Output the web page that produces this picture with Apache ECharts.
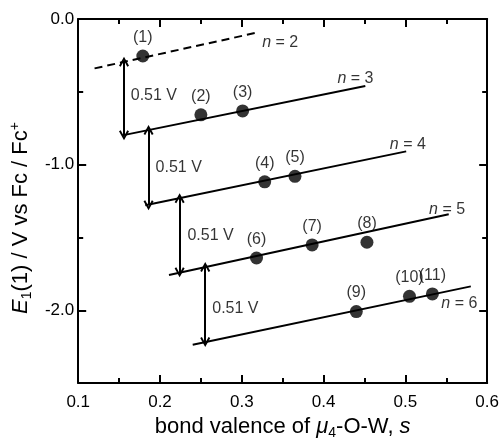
<!DOCTYPE html>
<html>
<head>
<meta charset="utf-8">
<script src="https://cdn.jsdelivr.net/npm/echarts@6/dist/echarts.min.js"></script>
<style>
  html, body { margin: 0; padding: 0; background: #fff; }
  #chart { width: 502px; height: 445px; }
</style>
</head>
<body>
<div id="chart"></div>
<script>
// measured points: bond valence s, E1(1)
const pointNames = ['(1)', '(2)', '(3)', '(4)', '(5)', '(6)', '(7)', '(8)', '(9)', '(10)', '(11)'];
const pointS = [0.179, 0.250, 0.301, 0.328, 0.365, 0.318, 0.386, 0.453, 0.440, 0.505, 0.533];
const pointE = [-0.254, -0.658, -0.631, -1.118, -1.080, -1.641, -1.551, -1.533, -2.009, -1.904, -1.888];

// fit lines per n: [sStart, eStart, sEnd, eEnd]
const fitN = [2, 3, 4, 5, 6];
const fitLines = [
  [0.120, -0.339, 0.318, -0.094],
  [0.154, -0.799, 0.451, -0.460],
  [0.182, -1.279, 0.501, -0.909],
  [0.211, -1.758, 0.553, -1.340],
  [0.240, -2.236, 0.580, -1.836]
];
// where the "n = .." text sits
const nLabelPos = [
  [0.347, -0.162],
  [0.439, -0.411],
  [0.503, -0.863],
  [0.551, -1.307],
  [0.566, -1.954]
];

// double arrows: [s, eTop, eBottom]
const gapArrows = [
  [0.156, -0.294, -0.799],
  [0.186, -0.763, -1.279],
  [0.224, -1.231, -1.739],
  [0.2553, -1.703, -2.218]
];
const gapText = '0.51 V';
const gapLabelPos = [
  [0.1925, -0.526],
  [0.2229, -1.018],
  [0.2618, -1.489],
  [0.2922, -1.988]
];

const xTicks = { min: 0.1, max: 0.6, step: 0.1 };
const yTicks = { min: -2.5, max: 0, step: 0.5, major: [0, -1, -2] };

const FONT = 'Liberation Sans, Arial, sans-serif';
const INK = '#000';
const CLEAR = 'rgba(0,0,0,0)';

const chart = echarts.init(document.getElementById('chart'));

// open chevron head, tip at top
const head = 'path://M0,9 L5,0 L10,9 L8.3,10 L5,3.8 L1.7,10 Z';

function xAxisDef(pos, showLabels) {
  return {
    type: 'value',
    position: pos,
    min: xTicks.min,
    max: xTicks.max,
    interval: xTicks.step,
    splitLine: { show: false },
    axisLine: { show: true, onZero: false, lineStyle: { color: INK, width: 2 } },
    axisTick: { show: true, inside: true, length: 8, lineStyle: { color: INK, width: 2 } },
    minorTick: { show: true, splitNumber: 2, length: 5, lineStyle: { color: INK, width: 2 } },
    axisLabel: {
      show: showLabels,
      margin: 11,
      color: INK,
      fontFamily: FONT,
      fontSize: 17,
      formatter: v => v.toFixed(1)
    }
  };
}

function yAxisDef(pos, showLabels, majorOnly) {
  const ax = {
    type: 'value',
    position: pos,
    min: yTicks.min,
    max: yTicks.max,
    interval: yTicks.step,
    splitLine: { show: false },
    axisLine: { show: !majorOnly, onZero: false, lineStyle: { color: INK, width: 2 } },
    axisTick: { show: true, inside: true, length: majorOnly ? 8 : 5, lineStyle: { color: INK, width: 2 } },
    axisLabel: {
      show: showLabels,
      margin: 4,
      color: INK,
      fontFamily: FONT,
      fontSize: 17,
      formatter: v => (Math.abs(v - Math.round(v)) < 1e-6 ? v.toFixed(1) : '')
    }
  };
  if (majorOnly) ax.axisTick.customValues = yTicks.major;
  return ax;
}

const titleRich = {
  n: { fontFamily: FONT, fontSize: 22, color: INK, lineHeight: 26 },
  i: { fontFamily: FONT, fontSize: 22, color: INK, fontStyle: 'italic', lineHeight: 26 },
  sub: { fontFamily: FONT, fontSize: 14, color: INK, verticalAlign: 'bottom', lineHeight: 16 },
  sup: { fontFamily: FONT, fontSize: 14, color: INK, verticalAlign: 'top', lineHeight: 16 }
};

const xAxes = [xAxisDef('bottom', true), xAxisDef('top', false)];
xAxes[0].name = '{n|bond valence of }{i|μ}{sub|4}{n|-O-W, }{i|s}';
xAxes[0].nameLocation = 'middle';
xAxes[0].nameGap = 30;
xAxes[0].nameTextStyle = { rich: titleRich };

const yAxes = [
  yAxisDef('left', true, false),
  yAxisDef('left', false, true),
  yAxisDef('right', false, false),
  yAxisDef('right', false, true)
];
yAxes[0].name = '{i|E}{sub|1}{n|(1) / V vs Fc / Fc}{sup|+}';
yAxes[0].nameLocation = 'middle';
yAxes[0].nameRotate = 90;
yAxes[0].nameGap = 41;
yAxes[0].nameTextStyle = { padding: [0, 34, 0, 0], rich: titleRich };

const series = [];

fitLines.forEach((l, i) => {
  series.push({
    name: 'n = ' + fitN[i],
    type: 'line',
    data: [[l[0], l[1]], [l[2], l[3]]],
    symbol: 'none',
    silent: true,
    lineStyle: { color: INK, width: 2, type: fitN[i] === 2 ? [8, 5] : 'solid' },
    z: 2
  });
});

series.push({
  type: 'lines',
  coordinateSystem: 'cartesian2d',
  silent: true,
  symbol: [head, head],
  symbolSize: [10, 10],
  lineStyle: { color: INK, width: 2, opacity: 1 },
  data: gapArrows.map(a => ({ coords: [[a[0], a[1]], [a[0], a[2]]] })),
  z: 3
});

// text-only marks: "0.51 V" and "n = .."
series.push({
  type: 'scatter',
  silent: true,
  symbol: 'circle',
  symbolSize: 1,
  itemStyle: { color: CLEAR },
  data: gapLabelPos,
  label: {
    show: true,
    position: 'inside',
    formatter: gapText,
    color: INK,
    fontFamily: FONT,
    fontSize: 16
  },
  z: 4
});

series.push({
  type: 'scatter',
  silent: true,
  symbol: 'circle',
  symbolSize: 1,
  itemStyle: { color: CLEAR },
  data: nLabelPos,
  label: {
    show: true,
    position: 'inside',
    formatter: p => '{i|n}{t| = ' + fitN[p.dataIndex] + '}',
    rich: {
      i: { fontFamily: FONT, fontSize: 16, color: INK, fontStyle: 'italic' },
      t: { fontFamily: FONT, fontSize: 16, color: INK }
    }
  },
  z: 4
});

series.push({
  type: 'scatter',
  silent: true,
  symbol: 'circle',
  symbolSize: 13,
  itemStyle: { color: '#000' },
  data: pointS.map((s, i) => [s, pointE[i]]),
  label: {
    show: true,
    position: 'top',
    distance: 4,
    formatter: p => pointNames[p.dataIndex],
    color: INK,
    fontFamily: FONT,
    fontSize: 16
  },
  z: 5
});

chart.setOption({
  animation: false,
  backgroundColor: '#fff',
  grid: { left: 78, right: 13, top: 19, bottom: 56, containLabel: false },
  xAxis: xAxes,
  yAxis: yAxes,
  series: series
});
</script>
</body>
</html>
